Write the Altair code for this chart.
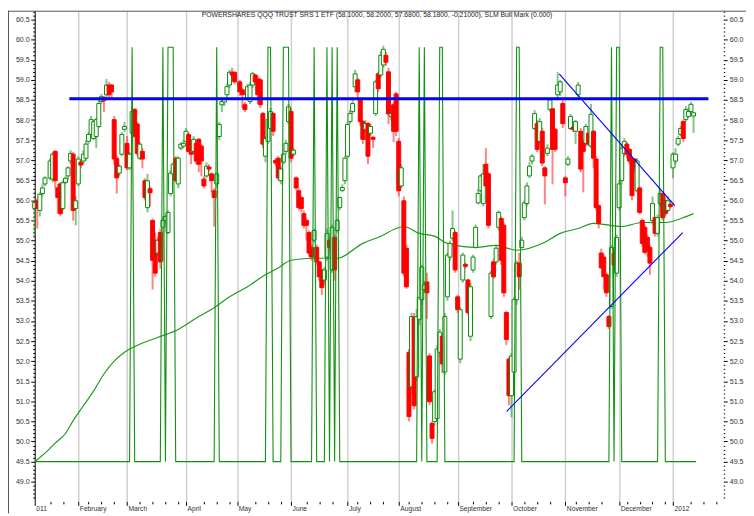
import json
import altair as alt
import pandas as pd

title_text = ("POWERSHARES QQQ TRUST SRS 1 ETF (58.1000, 58.2000, 57.6800, 58.1800, -0.21000), "
              "SLM Bull Mark (0.000)")

# trading-day index of each candle
days = list(range(0, 5)) + list(range(6, 79)) + list(range(80, 258))

opens = [
    55.80, 56.00, 55.75, 56.17, 56.41, 56.56, 56.53, 57.22, 56.31, 56.41,
    55.80, 56.45, 56.61, 56.98, 57.15, 55.80, 56.41, 56.95, 56.98, 57.05,
    57.47, 57.64, 57.54, 57.59, 57.84, 58.46, 58.55, 58.63, 58.87, 58.87,
    58.01, 57.05, 56.68, 57.15, 57.77, 57.42, 56.81, 57.67, 58.26, 57.90,
    57.05, 57.22, 56.49, 55.82, 56.29, 55.50, 55.01, 54.69, 55.20, 55.33,
    55.50, 55.20, 56.17, 56.66, 57.05, 56.41, 57.30, 57.35, 57.47, 57.64,
    57.20, 57.22, 57.42, 57.52, 57.35, 56.53, 56.61, 56.83, 56.66, 56.24,
    56.41, 57.59, 58.38, 58.45, 58.63, 58.87, 59.19, 59.19, 58.95, 58.75,
    58.38, 58.53, 58.46, 58.87, 59.12, 59.02, 59.00, 58.16, 57.10, 57.47,
    57.79, 58.16, 57.00, 57.05, 56.49, 56.95, 57.22, 57.96, 58.21, 57.15,
    56.56, 56.24, 56.07, 55.67, 55.50, 55.20, 54.83, 55.01, 54.83, 54.47,
    54.27, 54.02, 54.59, 55.01, 54.27, 55.08, 55.25, 55.82, 56.25, 56.49,
    57.10, 57.96, 58.21, 58.83, 59.00, 58.50, 57.96, 57.77, 57.91, 57.67,
    57.57, 58.16, 59.15, 59.12, 59.37, 59.61, 59.20, 58.09, 58.38, 58.65,
    57.47, 56.36, 55.99, 54.81, 52.22, 51.36, 53.09, 51.61, 53.04, 53.53,
    53.78, 53.97, 52.13, 50.45, 50.50, 50.57, 52.22, 52.62, 51.73, 53.60,
    54.59, 55.06, 55.20, 53.60, 52.05, 54.02, 54.41, 54.02, 52.62, 54.27,
    54.83, 55.94, 56.24, 55.92, 56.90, 56.66, 53.11, 54.47, 54.47, 55.33,
    55.55, 55.38, 53.21, 52.05, 51.14, 51.73, 53.53, 54.44, 54.83, 55.57,
    55.92, 56.61, 56.98, 57.79, 57.91, 57.47, 57.72, 56.81, 57.17, 58.26,
    58.28, 57.77, 58.63, 58.70, 58.41, 56.56, 56.90, 57.79, 57.82, 57.72,
    58.63, 57.72, 57.47, 57.42, 57.67, 57.35, 57.72, 57.03, 55.87, 54.69,
    54.59, 54.15, 53.11, 53.36, 54.69, 54.19, 55.82, 56.49, 57.17, 57.40,
    57.27, 57.03, 57.03, 56.24,
    56.31, 55.50, 55.33, 55.08, 54.83,
    55.50, 55.57, 55.18, 55.92, 56.17, 55.99, 55.75, 55.90, 56.81, 56.98,
    57.40, 57.64, 57.96, 58.01, 58.09, 58.21, 58.10,
]

highs = [
    56.00, 56.05, 56.20, 56.40, 56.60, 57.05, 57.20, 57.25, 56.40, 56.45,
    56.50, 56.60, 56.85, 57.25, 57.20, 56.10, 57.10, 57.00, 57.25, 57.50,
    57.70, 58.10, 58.00, 58.05, 58.50, 58.65, 58.60, 59.02, 58.95, 58.90,
    58.10, 57.10, 56.90, 57.70, 57.95, 57.60, 57.20, 58.30, 58.30, 57.95,
    57.45, 57.30, 56.55, 56.66, 56.35, 55.55, 55.20, 55.10, 55.30, 55.60,
    55.65, 55.75, 56.75, 56.95, 57.10, 57.10, 57.45, 57.50, 57.80, 57.70,
    57.25, 57.60, 57.50, 57.55, 57.40, 56.60, 56.95, 56.90, 56.70, 56.30,
    56.70, 57.95, 58.50, 58.55, 58.90, 59.25, 59.30, 59.20, 59.00, 58.80,
    58.45, 58.90, 58.95, 59.20, 59.15, 59.10, 59.05, 58.20, 57.60, 58.10,
    58.30, 58.20, 57.05, 57.10, 56.85, 57.20, 57.50, 58.40, 58.30, 57.30,
    56.60, 56.30, 56.10, 55.75, 55.55, 55.25, 54.90, 55.30, 54.90, 54.50,
    54.30, 54.35, 55.30, 55.10, 55.40, 55.15, 55.55, 56.10, 56.40, 57.10,
    57.95, 58.25, 58.50, 59.25, 59.05, 58.55, 58.00, 58.00, 57.95, 57.90,
    57.60, 59.00, 59.20, 59.70, 59.85, 59.70, 59.30, 58.20, 58.45, 58.70,
    57.55, 56.90, 56.10, 54.90, 52.30, 53.20, 53.20, 53.30, 53.60, 54.40,
    54.00, 54.20, 52.20, 50.50, 51.30, 52.40, 52.80, 52.70, 53.20, 54.70,
    55.00, 55.75, 55.25, 53.65, 53.35, 54.70, 54.45, 54.05, 53.95, 54.65,
    55.40, 56.30, 56.65, 56.90, 57.30, 56.70, 54.25, 54.55, 54.90, 55.75,
    55.60, 55.45, 53.25, 52.10, 52.20, 53.60, 54.50, 54.69, 55.10, 56.00,
    56.45, 56.95, 57.15, 58.25, 58.00, 58.05, 57.80, 56.85, 57.40, 58.55,
    58.30, 57.80, 59.19, 59.00, 58.50, 56.60, 57.10, 58.15, 57.85, 58.00,
    58.95, 57.80, 57.50, 57.90, 57.70, 58.40, 57.75, 57.10, 55.90, 54.80,
    54.65, 54.20, 53.15, 54.90, 54.75, 55.15, 56.50, 57.40, 57.55, 57.45,
    57.30, 57.10, 57.05, 57.05,
    56.35, 55.55, 55.40, 55.15, 54.90,
    56.10, 55.60, 55.65, 56.30, 56.20, 56.10, 56.10, 56.00, 57.20, 57.30,
    57.60, 57.85, 58.00, 58.35, 58.30, 58.45, 58.20,
]

lows = [
    55.10, 55.30, 55.60, 56.10, 56.35, 56.50, 56.45, 56.30, 55.67, 55.60,
    55.75, 56.40, 56.50, 56.90, 55.50, 55.38, 56.35, 56.80, 56.90, 57.00,
    57.40, 57.60, 57.50, 57.30, 57.80, 58.40, 58.20, 58.55, 58.55, 58.53,
    56.90, 56.17, 56.60, 57.10, 57.70, 56.75, 56.75, 57.60, 57.55, 57.10,
    57.00, 56.80, 56.00, 55.70, 55.85, 53.78, 54.10, 54.60, 54.30, 54.50,
    55.40, 55.15, 56.10, 56.60, 56.45, 56.30, 57.25, 57.30, 57.45, 57.20,
    56.90, 57.15, 56.90, 56.70, 56.60, 56.30, 56.55, 56.70, 56.20, 55.35,
    56.30, 57.50, 58.20, 58.35, 58.55, 58.80, 59.00, 58.90, 58.60, 58.30,
    58.20, 58.50, 58.40, 58.80, 58.90, 58.40, 58.30, 57.30, 56.95, 57.40,
    57.75, 57.60, 56.85, 56.50, 56.40, 56.90, 57.15, 57.90, 56.95, 57.10,
    56.25, 55.75, 55.70, 55.30, 55.00, 54.60, 54.50, 54.95, 54.40, 54.00,
    53.65, 53.90, 54.50, 54.70, 54.20, 54.00, 55.20, 55.75, 56.20, 56.40,
    57.05, 57.90, 58.15, 58.70, 58.50, 57.85, 57.40, 57.50, 56.90, 57.60,
    57.30, 58.10, 58.70, 59.05, 59.30, 59.35, 57.90, 58.00, 57.45, 57.60,
    56.10, 56.30, 54.10, 53.80, 50.50, 51.20, 50.80, 51.50, 52.90, 53.40,
    53.70, 53.05, 50.90, 49.95, 50.40, 50.50, 52.10, 51.70, 51.65, 53.50,
    54.50, 55.00, 54.20, 53.20, 51.95, 53.95, 54.30, 53.15, 52.50, 54.20,
    54.80, 55.90, 56.20, 55.85, 56.30, 55.30, 53.05, 54.05, 54.40, 55.25,
    54.40, 53.60, 52.40, 50.90, 50.60, 51.60, 53.40, 53.78, 54.80, 55.50,
    55.85, 56.55, 56.90, 57.75, 57.20, 57.40, 56.85, 55.90, 57.10, 58.20,
    56.40, 57.20, 58.55, 58.60, 57.80, 56.10, 56.85, 57.75, 57.70, 57.40,
    58.55, 56.70, 56.20, 57.35, 57.35, 57.30, 56.80, 55.75, 55.30, 54.30,
    53.78, 53.60, 52.80, 53.30, 54.30, 54.10, 55.75, 56.40, 57.10, 57.05,
    56.90, 56.00, 56.70, 56.20,
    55.65, 54.85, 54.65, 54.60, 54.15,
    55.40, 55.10, 55.10, 55.85, 55.50, 55.60, 55.70, 55.80, 56.55, 56.90,
    57.35, 57.60, 57.45, 57.95, 58.05, 58.15, 57.68,
]

closes = [
    55.95, 55.80, 56.15, 56.31, 56.56, 56.98, 57.15, 56.49, 56.07, 55.67,
    56.44, 56.55, 56.81, 57.17, 55.75, 55.99, 57.03, 56.88, 57.15, 57.40,
    57.64, 58.01, 57.96, 58.01, 58.41, 58.58, 58.48, 58.87, 58.63, 58.70,
    57.03, 56.56, 56.85, 57.64, 57.84, 56.81, 57.15, 58.21, 57.60, 57.17,
    57.40, 57.03, 56.07, 56.49, 56.19, 54.51, 54.19, 55.01, 54.47, 55.50,
    55.60, 55.70, 56.68, 56.90, 56.49, 57.05, 57.40, 57.42, 57.72, 57.22,
    57.15, 57.52, 56.98, 56.90, 56.98, 56.36, 56.85, 56.78, 56.49, 56.07,
    56.66, 57.89, 58.46, 58.52, 58.83, 59.19, 59.12, 58.95, 58.70, 58.63,
    58.26, 58.83, 58.87, 59.15, 58.95, 58.63, 58.38, 57.40, 57.54, 58.01,
    58.21, 57.72, 56.93, 56.56, 56.78, 57.15, 57.42, 58.33, 57.05, 57.25,
    56.31, 55.82, 55.80, 55.38, 55.38, 54.69, 54.59, 55.25, 54.47, 54.10,
    53.83, 54.27, 55.18, 54.83, 55.33, 54.27, 55.50, 56.07, 56.32, 57.05,
    57.89, 58.16, 58.41, 59.15, 58.70, 57.96, 57.52, 57.91, 57.10, 57.84,
    57.52, 58.95, 58.78, 59.61, 59.76, 59.44, 58.15, 58.16, 57.72, 57.72,
    56.24, 56.81, 54.19, 53.85, 50.62, 53.11, 50.89, 53.11, 53.58, 54.34,
    53.90, 53.70, 50.99, 50.08, 51.24, 52.30, 52.72, 51.93, 53.11, 54.64,
    54.93, 55.30, 54.27, 53.28, 53.28, 54.64, 54.36, 53.21, 53.85, 54.59,
    55.33, 56.17, 56.61, 56.66, 56.36, 55.38, 54.19, 54.10, 54.81, 55.70,
    54.51, 53.70, 52.54, 51.14, 52.13, 53.53, 54.44, 54.10, 55.01, 55.94,
    56.36, 56.85, 57.10, 58.16, 57.27, 57.96, 56.93, 56.61, 57.30, 58.50,
    57.27, 57.27, 58.87, 58.95, 57.91, 56.44, 57.03, 58.09, 57.77, 57.96,
    58.87, 56.78, 57.22, 57.84, 57.40, 58.14, 57.05, 55.82, 55.43, 54.32,
    54.10, 53.70, 52.86, 54.83, 54.39, 55.08, 56.41, 57.30, 57.47, 57.15,
    56.98, 56.12, 56.81, 56.98,
    55.70, 54.93, 54.71, 54.76, 54.44,
    55.92, 55.18, 55.57, 56.17, 55.57, 55.67, 55.99, 55.85, 57.15, 57.15,
    57.54, 57.79, 57.54, 58.26, 58.21, 58.39, 58.18,
]

# moving average (read at selected days)
ma_days = [0, 4, 8, 12, 15, 19, 23, 27, 31, 35, 41, 48, 56, 64, 70, 76, 83, 90, 95, 100,
           109, 118, 128, 135, 141, 144, 150, 156, 161, 172, 180, 188, 199, 205, 212, 218,
           229, 237, 246, 253, 257]
ma_vals = [49.49, 49.71, 49.96, 50.20, 50.52, 50.89, 51.26, 51.68, 52.00, 52.22, 52.42,
           52.59, 52.79, 53.11, 53.33, 53.60, 53.85, 54.15, 54.32, 54.51, 54.56, 54.56,
           54.93, 55.11, 55.30, 55.35, 55.18, 55.11, 54.93, 54.83, 54.88, 54.76, 54.96,
           55.18, 55.30, 55.43, 55.35, 55.45, 55.45, 55.57, 55.67]

# SLM Bull Mark indicator: days on which it equals 1 (0 elsewhere)
bull_on_days = [38, 50, 52, 53, 54, 71, 91, 92, 97, 98, 99, 109, 114, 116, 118,
                150, 152, 158, 159, 188, 189, 225, 227, 228, 244, 245]
bull_last_day = 258

# horizontal resistance level and trend lines
level_value = 58.53
level_start, level_end = 13.5, 262.8
trend_d1 = [204.6, 184.1]
trend_p1 = [59.15, 50.75]
trend_d2 = [249.7, 252.8]
trend_p2 = [55.87, 55.20]

month_days = [0, 17, 36, 59, 79, 100, 122, 142, 165, 186, 207, 228, 249]
month_names = ["011", "February", "March", "April", "May", "June", "July", "August",
               "September", "October", "November", "December", "2012"]

FONT = "Liberation Sans"
n = min(len(days), len(opens), len(highs), len(lows), len(closes))
candles = pd.DataFrame({"day": days[:n], "open": opens[:n], "high": highs[:n],
                        "low": lows[:n], "close": closes[:n]})
ma_df = pd.DataFrame({"day": ma_days, "ma": ma_vals})
bull_df = pd.DataFrame({"day": list(range(bull_last_day + 1))})
bull_df["bull"] = bull_df["day"].isin(bull_on_days).astype(int)
level_df = pd.DataFrame({"d1": [level_start], "d2": [level_end], "v": [level_value]})
trend_df = pd.DataFrame({"d1": trend_d1, "p1": trend_p1, "d2": trend_d2, "p2": trend_p2})

PLOT_W, PLOT_H = 696, 496
xscale = alt.Scale(domain=[0, 268.6], nice=False, zero=False, padding=0)
yscale = alt.Scale(domain=[48.51, 60.72], nice=False, zero=False, padding=0)

weekly = [d for d in range(1, 268, 5) if all(abs(d - m) > 2 for m in month_days)]
x_ticks = sorted(set(month_days + weekly))
md_js = json.dumps(month_days)
mn_js = json.dumps(month_names)
month_test = f"indexof({md_js}, datum.value) >= 0"
x_label_expr = f"indexof({md_js}, datum.value) >= 0 ? {mn_js}[indexof({md_js}, datum.value)] : ''"

y_ticks = [round(48.6 + 0.1 * k, 1) for k in range(122)]
y_major = "abs(round(datum.value * 10)) % 5 == 0"
y_label_expr = f"{y_major} ? format(datum.value, '.1f') : ''"

x_axis = alt.Axis(values=x_ticks, labelExpr=x_label_expr, labelAlign="left", labelFlush=False,
                  labelOverlap=False, labelFontSize=6.8, labelPadding=0, labelOffset=1,
                  labelColor="#333", labelFont=FONT,
                  tickSize={"condition": {"test": month_test, "value": 4}, "value": 2.5},
                  tickColor="#000", domain=False, grid=True, gridColor="#cfcfcf", gridWidth=1.5,
                  gridOpacity={"condition": {"test": "datum.value > 0 && " + month_test, "value": 1},
                               "value": 0},
                  title=None)

y_left = alt.Axis(values=y_ticks, labelExpr=y_label_expr, orient="left", labelOverlap=False,
                  labelFlush=False, labelFontSize=7.2, labelPadding=1.5, labelColor="#333",
                  labelFont=FONT,
                  tickSize={"condition": {"test": y_major, "value": 4}, "value": 2},
                  tickColor="#000", domainColor="#000", domainWidth=1, grid=False, title=None)

y_right = alt.Axis(values=y_ticks, labelExpr=y_label_expr, orient="right", labelOverlap=False,
                   labelFlush=False, labelFontSize=7.2, labelPadding=2, labelColor="#333",
                   labelFont=FONT,
                   tickSize={"condition": {"test": y_major, "value": 4}, "value": 1.5},
                   tickColor="#000", domain=False, grid=False, title=None)

up = "datum.close >= datum.open"

wicks = alt.Chart(candles).mark_rule(strokeWidth=2, opacity=0.6).encode(
    x=alt.X("day:Q", scale=xscale, axis=x_axis, title=None),
    y=alt.Y("low:Q", scale=yscale, axis=y_left, title=None),
    y2="high:Q",
    color=alt.condition(up, alt.value("#2ea02e"), alt.value("#ff3030")),
)

ma_line = alt.Chart(ma_df).mark_line(color="#1f9a1f", strokeWidth=1.2, interpolate="monotone").encode(
    x=alt.X("day:Q", scale=xscale, axis=None),
    y=alt.Y("ma:Q", scale=yscale, axis=y_right, title=None),
)

bodies = alt.Chart(candles).mark_bar(width=4, strokeWidth=1).encode(
    x=alt.X("day:Q", scale=xscale, axis=None),
    y=alt.Y("open:Q", scale=yscale, axis=None),
    y2="close:Q",
    fill=alt.condition(up, alt.value("#ffffff"), alt.value("#ff0000")),
    stroke=alt.condition(up, alt.value("#0a8a0a"), alt.value("#ff0000")),
)

bull_line = alt.Chart(bull_df).transform_calculate(
    level="49.5 + datum.bull * 10.31"
).mark_line(color="#129012", strokeWidth=1.1).encode(
    x=alt.X("day:Q", scale=xscale, axis=None),
    y=alt.Y("level:Q", scale=yscale, axis=None),
)

level = alt.Chart(level_df).mark_rule(color="#0000ff", strokeWidth=3).encode(
    x=alt.X("d1:Q", scale=xscale, axis=None), x2="d2:Q",
    y=alt.Y("v:Q", scale=yscale, axis=None),
)

trends = alt.Chart(trend_df).mark_rule(color="#0000ff", strokeWidth=1.1).encode(
    x=alt.X("d1:Q", scale=xscale, axis=None), x2="d2:Q",
    y=alt.Y("p1:Q", scale=yscale, axis=None), y2="p2:Q",
)

title = alt.Chart(pd.DataFrame({"t": [title_text]})).mark_text(
    font=FONT, fontSize=6.9, color="#222", align="center", baseline="alphabetic"
).encode(text="t:N", x=alt.value(346), y=alt.value(6))

frame_df = pd.DataFrame({"k": [0]})
frame_top = alt.Chart(frame_df).mark_rule(color="#555", strokeWidth=1).encode(
    x=alt.value(-27), x2=alt.value(719), y=alt.value(0.5))
frame_left = alt.Chart(frame_df).mark_rule(color="#555", strokeWidth=1).encode(
    x=alt.value(-26.5), y=alt.value(0), y2=alt.value(508))

chart = alt.layer(
    wicks, ma_line, bodies, bull_line, level, trends, title, frame_top, frame_left
).resolve_axis(x="independent", y="independent").properties(
    width=PLOT_W, height=PLOT_H,
    padding={"left": 27, "top": 0, "right": 23, "bottom": 12},
    autosize=alt.AutoSizeParams(type="none"),
).configure_view(strokeWidth=0)

chart.save("out.html", embed_options={"renderer": "svg", "actions": False})
